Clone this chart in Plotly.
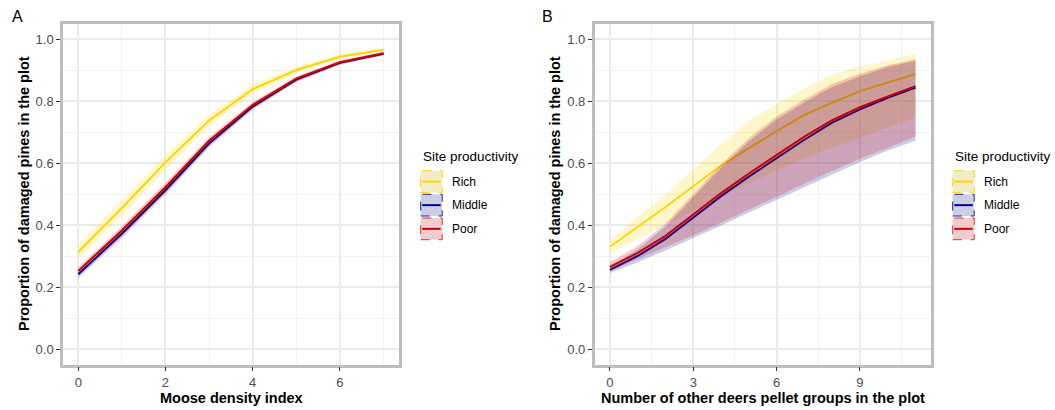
import plotly.graph_objects as go

W, H = 1055, 410

# ---------------- data ----------------
groups = ["Rich", "Middle", "Poor"]

# Panel A: moose density index
moose_x = [0, 1, 2, 3, 4, 5, 6, 7]
moose_rich = [0.313, 0.455, 0.602, 0.737, 0.838, 0.900, 0.943, 0.965]
moose_rich_lo = [0.290, 0.430, 0.578, 0.718, 0.823, 0.890, 0.936, 0.960]
moose_rich_hi = [0.336, 0.480, 0.626, 0.756, 0.853, 0.910, 0.950, 0.970]
moose_middle = [0.241, 0.372, 0.512, 0.663, 0.782, 0.869, 0.923, 0.952]
moose_middle_lo = [0.229, 0.358, 0.498, 0.651, 0.772, 0.861, 0.917, 0.947]
moose_middle_hi = [0.253, 0.386, 0.526, 0.675, 0.792, 0.877, 0.929, 0.957]
moose_poor = [0.252, 0.382, 0.522, 0.672, 0.787, 0.872, 0.925, 0.954]
moose_poor_lo = [0.240, 0.368, 0.508, 0.660, 0.777, 0.864, 0.919, 0.949]
moose_poor_hi = [0.264, 0.396, 0.536, 0.684, 0.797, 0.880, 0.931, 0.959]

# Panel B: number of other deers pellet groups
deer_x = [0, 1, 2, 3, 4, 5, 6, 7, 8, 9, 10, 11]
deer_rich = [0.330, 0.393, 0.458, 0.525, 0.592, 0.648, 0.703, 0.755, 0.795, 0.832, 0.860, 0.887]
deer_rich_lo = [0.308, 0.355, 0.400, 0.445, 0.490, 0.535, 0.575, 0.615, 0.650, 0.680, 0.715, 0.745]
deer_rich_hi = [0.352, 0.425, 0.500, 0.580, 0.660, 0.735, 0.790, 0.840, 0.885, 0.912, 0.932, 0.952]
deer_middle = [0.255, 0.300, 0.355, 0.425, 0.493, 0.556, 0.616, 0.675, 0.730, 0.773, 0.810, 0.843]
deer_middle_lo = [0.245, 0.280, 0.318, 0.357, 0.398, 0.440, 0.481, 0.522, 0.563, 0.603, 0.640, 0.672]
deer_middle_hi = [0.268, 0.322, 0.395, 0.490, 0.585, 0.670, 0.740, 0.795, 0.845, 0.880, 0.910, 0.930]
deer_poor = [0.265, 0.310, 0.365, 0.435, 0.503, 0.566, 0.626, 0.685, 0.738, 0.780, 0.815, 0.848]
deer_poor_lo = [0.252, 0.290, 0.328, 0.367, 0.408, 0.450, 0.493, 0.535, 0.575, 0.614, 0.650, 0.685]
deer_poor_hi = [0.280, 0.332, 0.405, 0.500, 0.595, 0.680, 0.750, 0.805, 0.855, 0.888, 0.915, 0.935]

y_ticks = [0.0, 0.2, 0.4, 0.6, 0.8, 1.0]
y_ticklabels = ["0.0", "0.2", "0.4", "0.6", "0.8", "1.0"]
moose_ticks = [0, 2, 4, 6]
deer_ticks = [0, 3, 6, 9]

line_colors = {"Rich": "#FFD700", "Middle": "#00008B", "Poor": "#CC0000"}
fill_colors = {"Rich": "rgba(255,215,0,0.2)", "Middle": "rgba(0,0,139,0.2)", "Poor": "rgba(204,0,0,0.2)"}
key_fills = {"Rich": "rgba(242,236,200,1)", "Middle": "rgba(205,205,228,1)", "Poor": "rgba(240,205,205,1)"}
key_borders = {"Rich": "#FFD700", "Middle": "#2020A0", "Poor": "#E03030"}

FONT = "Liberation Sans, Arial, sans-serif"


def px(x):
    return x / W


def py(y):
    return 1 - y / H


panels = [
    dict(x=moose_x, xaxis="x", yaxis="y",
         series={"Rich": (moose_rich, moose_rich_lo, moose_rich_hi),
                 "Middle": (moose_middle, moose_middle_lo, moose_middle_hi),
                 "Poor": (moose_poor, moose_poor_lo, moose_poor_hi)}),
    dict(x=deer_x, xaxis="x2", yaxis="y2",
         series={"Rich": (deer_rich, deer_rich_lo, deer_rich_hi),
                 "Middle": (deer_middle, deer_middle_lo, deer_middle_hi),
                 "Poor": (deer_poor, deer_poor_lo, deer_poor_hi)}),
]

fig = go.Figure()
for p in panels:
    for g in groups:
        mean, lo, hi = p["series"][g]
        fig.add_trace(go.Scatter(x=p["x"], y=lo, mode="lines", line=dict(width=0),
                                 xaxis=p["xaxis"], yaxis=p["yaxis"], showlegend=False,
                                 hoverinfo="skip"))
        fig.add_trace(go.Scatter(x=p["x"], y=hi, mode="lines", line=dict(width=0),
                                 fill="tonexty", fillcolor=fill_colors[g],
                                 xaxis=p["xaxis"], yaxis=p["yaxis"], showlegend=False,
                                 hoverinfo="skip"))
        fig.add_trace(go.Scatter(x=p["x"], y=mean, mode="lines", name=g,
                                 line=dict(color=line_colors[g], width=2),
                                 xaxis=p["xaxis"], yaxis=p["yaxis"], showlegend=False))

y_dom = [py(364.5), py(23.5)]
xdomA = [px(63), px(398.8)]
xdomB = [px(594.7), px(930.8)]

common_axis = dict(
    showline=True, linecolor="#BEBEBE", linewidth=2.5, mirror=True,
    ticks="outside", ticklen=4, tickcolor="#333333", tickwidth=1,
    showgrid=True, gridcolor="#EBEBEB", gridwidth=1.6,
    zeroline=False,
    tickfont=dict(family=FONT, size=13, color="#4D4D4D"),
)

fig.update_layout(
    width=W, height=H,
    margin=dict(l=0, r=0, t=0, b=0),
    paper_bgcolor="white", plot_bgcolor="white",
    showlegend=False,
    xaxis=dict(domain=xdomA, range=[-0.35, 7.35], anchor="y",
               tickvals=moose_ticks, ticktext=[str(v) for v in moose_ticks],
               minor=dict(dtick=1, tick0=0, showgrid=True, gridcolor="#F2F2F2", gridwidth=1, ticks=""),
               **common_axis),
    yaxis=dict(domain=y_dom, range=[-0.05, 1.05], anchor="x",
               tickvals=y_ticks, ticktext=y_ticklabels,
               minor=dict(dtick=0.1, tick0=0, showgrid=True, gridcolor="#F2F2F2", gridwidth=1, ticks=""),
               **common_axis),
    xaxis2=dict(domain=xdomB, range=[-0.55, 11.55], anchor="y2",
                tickvals=deer_ticks, ticktext=[str(v) for v in deer_ticks],
                minor=dict(dtick=1.5, tick0=0, showgrid=True, gridcolor="#F2F2F2", gridwidth=1, ticks=""),
                **common_axis),
    yaxis2=dict(domain=y_dom, range=[-0.05, 1.05], anchor="x2",
                tickvals=y_ticks, ticktext=y_ticklabels,
                minor=dict(dtick=0.1, tick0=0, showgrid=True, gridcolor="#F2F2F2", gridwidth=1, ticks=""),
                **common_axis),
)

ann = []
shapes = []


def text(x, y, s, size, bold=False, angle=0, xanchor="center", color="black"):
    ann.append(dict(x=px(x), y=py(y), xref="paper", yref="paper", text=("<b>%s</b>" % s) if bold else s,
                    showarrow=False, textangle=angle, xanchor=xanchor, yanchor="middle",
                    font=dict(family=FONT, size=size, color=color)))


# panel tags
text(10, 16, "A", 16, xanchor="left")
text(540, 16, "B", 16, xanchor="left")
# axis titles
text(231, 398, "Moose density index", 14.5, bold=True)
text(763, 398, "Number of other deers pellet groups in the plot", 14.5, bold=True)
text(24, 194, "Proportion of damaged pines in the plot", 14.5, bold=True, angle=-90)
text(555, 194, "Proportion of damaged pines in the plot", 14.5, bold=True, angle=-90)

# legends
for lx in (420.7, 952.7):
    text(lx, 156, "Site productivity", 13.5, xanchor="left")
    tops = [170.7, 194.3, 218]
    for g, t in zip(groups, tops):
        x0, x1, y0, y1 = lx, lx + 21.5, t, t + 21.7
        shapes.append(dict(type="rect", xref="paper", yref="paper",
                           x0=px(x0), x1=px(x1), y0=py(y1), y1=py(y0),
                           fillcolor=key_fills[g],
                           line=dict(color=key_borders[g], width=1, dash="dash")))
        shapes.append(dict(type="line", xref="paper", yref="paper",
                           x0=px(x0 + 1.5), x1=px(x1 - 1.5), y0=py((y0 + y1) / 2), y1=py((y0 + y1) / 2),
                           line=dict(color=line_colors[g], width=2)))
        text(lx + 29.5, (y0 + y1) / 2, g, 12, xanchor="left")

fig.update_layout(annotations=ann, shapes=shapes)

fig.write_html("out.html", config={"displayModeBar": False},
               post_script="document.body.style.margin='0px';document.body.style.padding='0px';")
